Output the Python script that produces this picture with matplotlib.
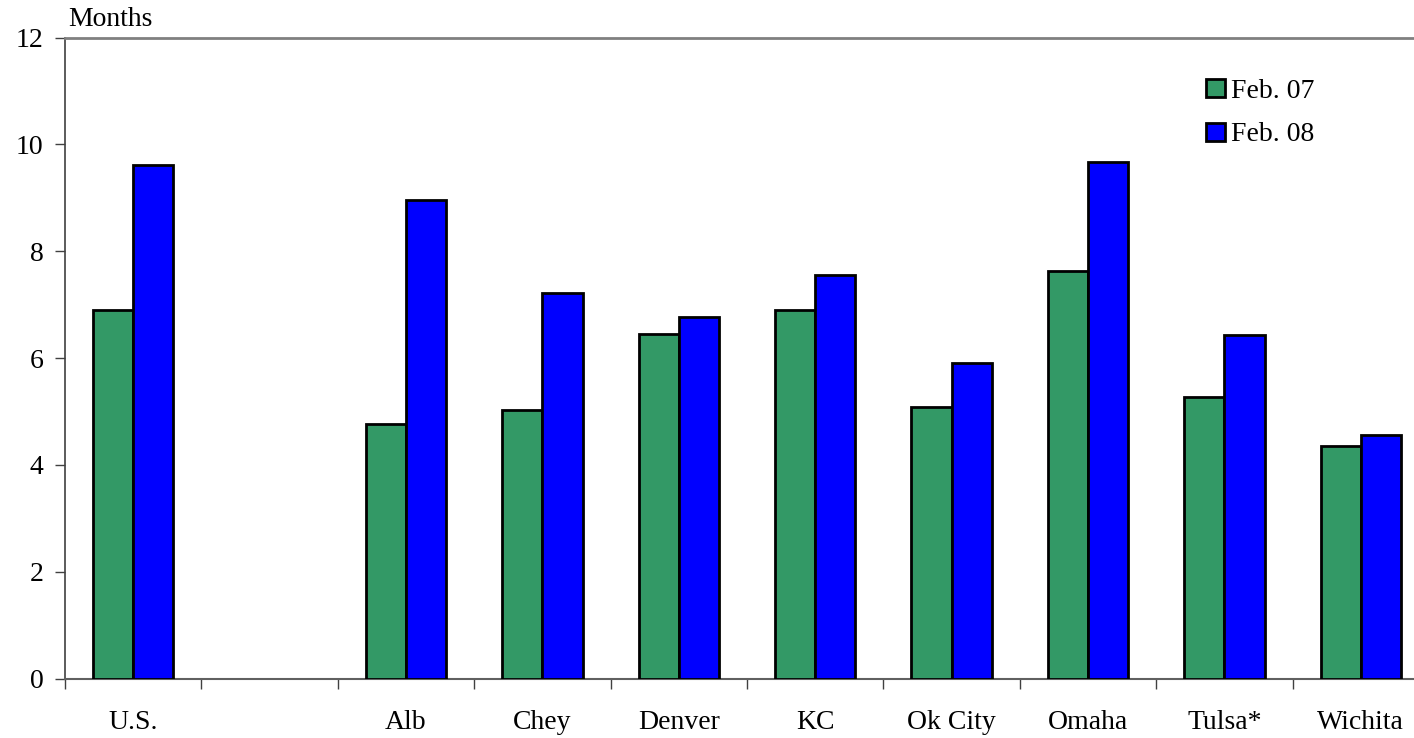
import numpy as np
import matplotlib
matplotlib.use("Agg")
import matplotlib.pyplot as plt
from matplotlib.patches import Patch

# Months' supply of homes for sale, by market
categories = ["U.S.", "", "Alb", "Chey", "Denver", "KC", "Ok City", "Omaha", "Tulsa*", "Wichita"]
feb_07 = [6.89, None, 4.77, 5.02, 6.44, 6.89, 5.09, 7.62, 5.27, 4.35]
feb_08 = [9.62, None, 8.95, 7.21, 6.76, 7.55, 5.91, 9.67, 6.43, 4.55]
series_labels = ["Feb. 07", "Feb. 08"]
y_ticks = [0, 2, 4, 6, 8, 10, 12]

GREEN = "#339966"
BLUE = "#0000FF"

plt.rcParams["font.family"] = ["Liberation Serif", "DejaVu Serif"]
FS = 20

W, H = 1414, 738
fig = plt.figure(figsize=(W / 100, H / 100), dpi=100)
ax = fig.add_axes([65 / W, (H - 678.5) / H, 1364 / W, (678.5 - 37.5) / H])

bw = 0.295
EDGE = 2.0
idx = [i for i, v in enumerate(feb_07) if v is not None]
ax.bar([i - bw for i in idx], [feb_07[i] for i in idx], width=bw, align="edge",
       color=GREEN, edgecolor="black", linewidth=EDGE, zorder=3)
idx = [i for i, v in enumerate(feb_08) if v is not None]
ax.bar(idx, [feb_08[i] for i in idx], width=bw, align="edge",
       color=BLUE, edgecolor="black", linewidth=EDGE, zorder=3)

ax.set_xlim(-0.5, len(categories) - 0.5)
ax.set_ylim(0, 12)
ax.set_yticks(y_ticks)
ax.set_yticklabels([str(t) for t in y_ticks], fontsize=FS)
ax.tick_params(axis="y", direction="out", length=7, width=1, color="#404040", pad=8.5)

# category boundaries carry the tick marks, centres carry the labels
ax.set_xticks(np.arange(-0.5, len(categories), 1.0))
ax.set_xticklabels([])
ax.tick_params(axis="x", which="major", direction="out", length=7, width=1, color="#404040")
ax.set_xticks(np.arange(len(categories)), minor=True)
ax.set_xticklabels(categories, minor=True, fontsize=FS)
ax.tick_params(axis="x", which="minor", length=0, pad=23)

ax.spines["right"].set_visible(False)
ax.spines["left"].set_color("#404040")
ax.spines["left"].set_linewidth(1.2)
ax.spines["bottom"].set_color("#606060")
ax.spines["bottom"].set_linewidth(1.5)
ax.spines["top"].set_color("#808080")
ax.spines["top"].set_linewidth(2)

fig.text(68 / W, 1 - 20 / H, "Months", fontsize=FS, va="center", ha="left")

handles = [Patch(facecolor=GREEN, edgecolor="black", linewidth=EDGE),
           Patch(facecolor=BLUE, edgecolor="black", linewidth=EDGE)]
fig.legend(handles, series_labels, loc="upper left", bbox_to_anchor=(1206 / W, 1 - 79 / H),
           frameon=False, fontsize=FS, handlelength=0.68, handleheight=0.62,
           handletextpad=0.22, labelspacing=0.66, borderpad=0, borderaxespad=0)

fig.savefig("out.png", dpi=100, facecolor="white")
